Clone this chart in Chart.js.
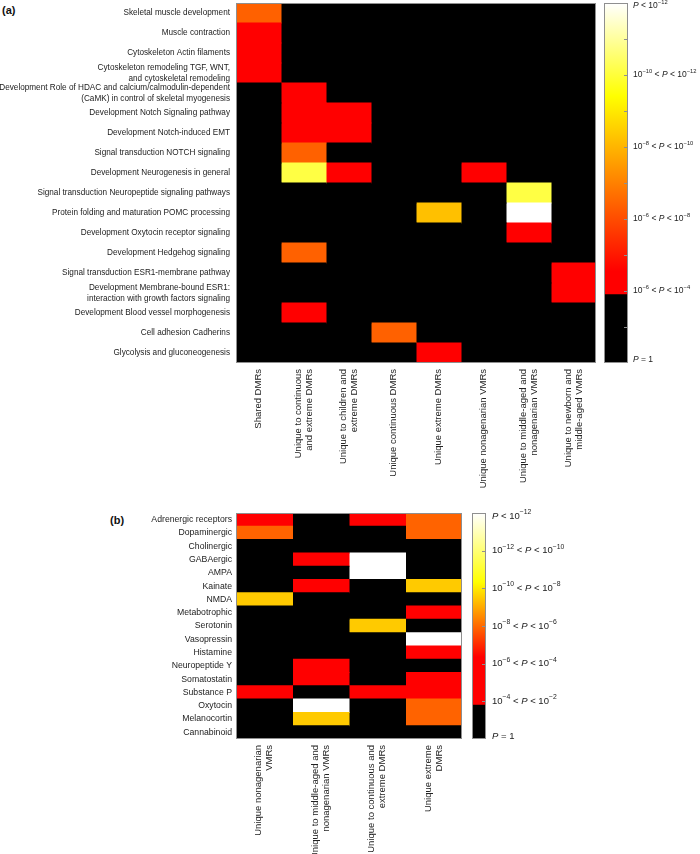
<!DOCTYPE html>
<html>
<head>
<meta charset="utf-8">
<title>Enrichment heatmaps</title>
<script src="https://cdn.jsdelivr.net/npm/chart.js@4.4.1/dist/chart.umd.min.js"></script>
<style>
  body { margin: 0; background: #fff; }
  #wrap { position: relative; width: 700px; height: 854px; overflow: hidden; font-family: 'Liberation Sans', Arial, sans-serif; }
  canvas { position: absolute; }
  .panel { position: absolute; font-weight: bold; font-size: 11px; color: #111; }
</style>
</head>
<body>
<div id="wrap">
  <div class="panel" style="left:2px;top:4px">(a)</div>
  <canvas id="heatA" width="600" height="500" style="left:0;top:0"></canvas>
  <canvas id="barA" width="100" height="386" style="left:600px;top:-6px"></canvas>
  <div class="panel" style="left:110px;top:514px">(b)</div>
  <canvas id="heatB" width="470" height="354" style="left:0;top:500px"></canvas>
  <canvas id="barB" width="234" height="262" style="left:466px;top:498px"></canvas>
</div>

<script>
// ---- panel (a): pathways ----
const pathwaysA = [
  'Skeletal muscle development',
  'Muscle contraction',
  'Cytoskeleton Actin filaments',
  ['Cytoskeleton remodeling TGF, WNT,', 'and cytoskeletal remodeling'],
  ['Development Role of HDAC and calcium/calmodulin-dependent', '(CaMK) in control of skeletal myogenesis'],
  'Development Notch Signaling pathway',
  'Development Notch-induced EMT',
  'Signal transduction NOTCH signaling',
  'Development Neurogenesis in general',
  'Signal transduction Neuropeptide signaling pathways',
  'Protein folding and maturation POMC processing',
  'Development Oxytocin receptor signaling',
  'Development Hedgehog signaling',
  'Signal transduction ESR1-membrane pathway',
  ['Development Membrane-bound ESR1:', 'interaction with growth factors signaling'],
  'Development Blood vessel morphogenesis',
  'Cell adhesion Cadherins',
  'Glycolysis and gluconeogenesis'
];
const groupsA = [
  ['Shared DMRs'],
  ['Unique to continuous', 'and extreme DMRs'],
  ['Unique to children and', 'extreme DMRs'],
  ['Unique continuous DMRs'],
  ['Unique extreme DMRs'],
  ['Unique nonagenarian VMRs'],
  ['Unique to middle-aged and', 'nonagenarian VMRs'],
  ['Unique to newborn and', 'middle-aged VMRs']
];
// -log10(P) per group, one entry per pathway (0 = not enriched, P = 1)
const sharedDMRs        = [7.4, 5, 5, 5, 0, 0, 0, 0, 0, 0, 0, 0, 0, 0, 0, 0, 0, 0];
const contExtremeDMRs   = [0, 0, 0, 0, 5, 5, 5, 7.4, 11.1, 0, 0, 0, 7.4, 0, 0, 5, 0, 0];
const childExtremeDMRs  = [0, 0, 0, 0, 0, 5, 5, 0, 5, 0, 0, 0, 0, 0, 0, 0, 0, 0];
const continuousDMRs    = [0, 0, 0, 0, 0, 0, 0, 0, 0, 0, 0, 0, 0, 0, 0, 0, 7.4, 0];
const extremeDMRs       = [0, 0, 0, 0, 0, 0, 0, 0, 0, 0, 9.2, 0, 0, 0, 0, 0, 0, 5];
const nonagenVMRs       = [0, 0, 0, 0, 0, 0, 0, 0, 5, 0, 0, 0, 0, 0, 0, 0, 0, 0];
const midNonagenVMRs    = [0, 0, 0, 0, 0, 0, 0, 0, 0, 11.1, 13, 5, 0, 0, 0, 0, 0, 0];
const newbornMidVMRs    = [0, 0, 0, 0, 0, 0, 0, 0, 0, 0, 0, 0, 0, 5, 5, 0, 0, 0];
const valuesA = [sharedDMRs, contExtremeDMRs, childExtremeDMRs, continuousDMRs,
                 extremeDMRs, nonagenVMRs, midNonagenVMRs, newbornMidVMRs];
const barTicksA  = [0, 2, 4, 6, 8, 10];
const barLabelsA = ['P = 1', '10^{-6} < P < 10^{-4}', '10^{-6} < P < 10^{-8}', '10^{-8} < P < 10^{-10}',
                    '10^{-10} < P < 10^{-12}', 'P < 10^{-12}'];

// ---- panel (b): receptor systems ----
const receptorsB = ['Adrenergic receptors', 'Dopaminergic', 'Cholinergic', 'GABAergic', 'AMPA', 'Kainate',
  'NMDA', 'Metabotrophic', 'Serotonin', 'Vasopressin', 'Histamine', 'Neuropeptide Y', 'Somatostatin',
  'Substance P', 'Oxytocin', 'Melanocortin', 'Cannabinoid'];
const groupsB = [
  ['Unique nonagenarian', 'VMRs'],
  ['Unique to middle-aged and', 'nonagenarian VMRs'],
  ['Unique to continuous and', 'extreme DMRs'],
  ['Unique extreme', 'DMRs']
];
const nonagenB    = [5, 6.9, 0, 0, 0, 0, 8.5, 0, 0, 0, 0, 0, 0, 5, 0, 0, 0];
const midNonagenB = [0, 0, 0, 5, 0, 5, 0, 0, 0, 0, 0, 5, 5, 0, 13, 8.5, 0];
const contExtB    = [5, 0, 0, 13, 13, 0, 0, 0, 8.5, 0, 0, 0, 0, 5, 0, 0, 0];
const extremeB    = [6.9, 6.9, 0, 0, 0, 8.5, 0, 5, 0, 13, 5, 0, 5, 5, 6.9, 6.9, 0];
const valuesB = [nonagenB, midNonagenB, contExtB, extremeB];
const barTicksB  = [0, 1, 2, 3, 4, 5, 6];
const barLabelsB = ['P = 1', '10^{-4} < P < 10^{-2}', '10^{-6} < P < 10^{-4}', '10^{-8} < P < 10^{-6}',
                    '10^{-10} < P < 10^{-8}', '10^{-12} < P < 10^{-10}', 'P < 10^{-12}'];

// colour scales: black below the threshold, then red -> yellow -> white
const scaleA = { toUnit: L => L - 3, blackTop: 1.9, max: 10,
  stops: [[0, [255, 0, 0]], [0.08, [255, 0, 0]], [0.68, [255, 255, 0]], [1, [255, 255, 255]]] };
const scaleB = { toUnit: L => (L - 1) / 2, blackTop: 0.9, max: 6,
  stops: [[0, [255, 0, 0]], [0.25, [255, 0, 0]], [0.64, [255, 255, 0]], [1, [255, 255, 255]]] };

function cellColor(sc, L) {
  const u = sc.toUnit(L);
  if (L <= 0 || u < sc.blackTop) return '#000';
  let t = Math.min(1, (u - sc.blackTop) / (sc.max - sc.blackTop));
  for (let i = 1; i < sc.stops.length; i++) {
    const [t0, c0] = sc.stops[i - 1], [t1, c1] = sc.stops[i];
    if (t <= t1) {
      const f = (t - t0) / (t1 - t0);
      return 'rgb(' + c0.map((c, k) => Math.round(c + (c1[k] - c) * f)).join(',') + ')';
    }
  }
  return '#fff';
}

const SANS = "'Liberation Sans', Arial, sans-serif";

// text with ^{...} superscripts and an italic P
function drawRich(ctx, str, x, y, size, supRatio) {
  const re = /\^\{([^}]*)\}|P|[^P^]+/g;
  let m;
  while ((m = re.exec(str))) {
    let txt = m[0], font = size + 'px ' + SANS, dy = 0;
    if (m[1] !== undefined) {
      txt = m[1].replace('-', '\u2212');
      font = (size * supRatio) + 'px ' + SANS;
      dy = -size * 0.4;
    } else if (txt === 'P') {
      font = 'italic ' + size + 'px ' + SANS;
    }
    ctx.font = font;
    ctx.fillText(txt, x, y + dy);
    x += ctx.measureText(txt).width;
  }
}

// black under the cells, so that no seams show between black cells
const plotBack = {
  id: 'plotBack',
  beforeDatasetsDraw(chart, args, opts) {
    if (!opts.color) return;
    const {ctx, chartArea: a} = chart;
    ctx.save();
    ctx.fillStyle = opts.color;
    ctx.fillRect(a.left, a.top, a.right - a.left, a.bottom - a.top);
    ctx.restore();
  }
};

// grey box round the plot area, inner ticks and rich labels on colour bars
const frame = {
  id: 'frame',
  afterDraw(chart, args, opts) {
    const {ctx, chartArea: a} = chart;
    ctx.save();
    ctx.strokeStyle = '#8f8f8f';
    ctx.lineWidth = 1;
    ctx.strokeRect(Math.round(a.left) + 0.5, Math.round(a.top) + 0.5,
                   Math.round(a.right - a.left) - 1, Math.round(a.bottom - a.top) - 1);
    if (opts.innerTicks) {
      const y = chart.scales.y;
      y.ticks.forEach(tk => {
        const py = Math.round(y.getPixelForValue(tk.value)) + 0.5;
        if (py < a.top + 2 || py > a.bottom - 2) return;
        ctx.beginPath();
        ctx.moveTo(a.right - 4, py);
        ctx.lineTo(a.right, py);
        ctx.stroke();
      });
    }
    if (opts.labels) {
      const y = chart.scales.y;
      ctx.fillStyle = '#222';
      ctx.textAlign = 'left';
      ctx.textBaseline = 'middle';
      opts.values.forEach((v, i) => {
        const py = Math.min(a.bottom - 3, Math.max(a.top + 3, y.getPixelForValue(v)));
        drawRich(ctx, opts.labels[i], a.right + opts.gap, py, opts.size, opts.supRatio);
      });
    }
    ctx.restore();
  }
};

// rotated group names under each heatmap column
const columnLabels = {
  id: 'columnLabels',
  afterDraw(chart, args, opts) {
    if (!opts.labels) return;
    const {ctx, chartArea: a} = chart;
    const x = chart.scales.x;
    ctx.save();
    ctx.font = opts.size + 'px ' + SANS;
    ctx.fillStyle = '#222';
    ctx.textAlign = 'right';
    ctx.textBaseline = 'middle';
    opts.labels.forEach((lines, j) => {
      const cx = x.getPixelForValue(j + 0.5);
      ctx.save();
      ctx.translate(cx, a.bottom + opts.gap);
      ctx.rotate(-Math.PI / 2);
      lines.forEach((ln, i) => ctx.fillText(ln, 0, (i - (lines.length - 1) / 2) * opts.lineHeight));
      ctx.restore();
    });
    ctx.restore();
  }
};

function heatmap(id, rows, groups, values, sc, padding, labelWidth, rowFont, rowPad, rowLine) {
  return new Chart(document.getElementById(id), {
    type: 'bar',
    data: {
      labels: rows,
      datasets: values.map((col, j) => ({
        label: groups[j].join(' '),
        data: rows.map(() => 1),
        backgroundColor: col.map(L => cellColor(sc, L)),
        borderWidth: 0,
        inflateAmount: 0.5,
        barPercentage: 1,
        categoryPercentage: 1
      }))
    },
    options: {
      indexAxis: 'y',
      responsive: false,
      animation: false,
      events: [],
      layout: { padding },
      plugins: {
        legend: { display: false },
        tooltip: { enabled: false },
        plotBack: { color: '#000' },
        columnLabels: { labels: groups, size: 9.5, gap: 6, lineHeight: 11 }
      },
      scales: {
        x: { type: 'linear', stacked: true, min: 0, max: groups.length, display: false },
        y: {
          stacked: true,
          grid: { display: false, drawTicks: false },
          border: { display: false },
          ticks: { autoSkip: false, padding: rowPad, color: '#222',
                   font: { family: SANS, size: rowFont, lineHeight: rowLine } },
          afterFit: ax => { ax.width = labelWidth; ax.paddingTop = 0; ax.paddingBottom = 0; }
        }
      }
    },
    plugins: [plotBack, frame, columnLabels]
  });
}

function colorbar(id, sc, tickVals, tickLabels, padding, axisWidth, fontSize, supRatio, gap) {
  return new Chart(document.getElementById(id), {
    type: 'bar',
    data: {
      labels: [''],
      datasets: [
        { label: 'P = 1', data: [[0, sc.blackTop]], backgroundColor: '#000' },
        { label: 'enriched', data: [[sc.blackTop, sc.max]],
          backgroundColor: ctx => {
            const ch = ctx.chart;
            if (!ch.chartArea) return '#f00';
            const y = ch.scales.y;
            const g = ch.ctx.createLinearGradient(0, y.getPixelForValue(sc.blackTop), 0, y.getPixelForValue(sc.max));
            sc.stops.forEach(([t, c]) => g.addColorStop(t, 'rgb(' + c.join(',') + ')'));
            return g;
          } }
      ].map(d => Object.assign(d, { borderWidth: 0, barPercentage: 1, categoryPercentage: 1, grouped: false }))
    },
    options: {
      responsive: false,
      animation: false,
      events: [],
      layout: { padding },
      plugins: {
        legend: { display: false },
        tooltip: { enabled: false },
        frame: { innerTicks: true, values: tickVals, labels: tickLabels, size: fontSize, supRatio, gap }
      },
      scales: {
        x: { display: false },
        y: {
          position: 'right',
          min: 0,
          max: sc.max,
          grid: { display: false, drawTicks: false },
          border: { display: false },
          ticks: { stepSize: 1, autoSkip: false, display: false },
          afterFit: ax => { ax.width = axisWidth; }
        }
      }
    },
    plugins: [frame]
  });
}

heatmap('heatA', pathwaysA, groupsA, valuesA, scaleA, { left: 0, top: 3, right: 4, bottom: 137 }, 236, 8.2, 6, 1.3);
colorbar('barA', scaleA, barTicksA, barLabelsA, { left: 4, top: 9, right: 0, bottom: 17 }, 72, 8.5, 0.68, 5);
heatmap('heatB', receptorsB, groupsB, valuesB, scaleB, { left: 0, top: 13, right: 8, bottom: 115 }, 236, 8.7, 4, 1.2);
colorbar('barB', scaleB, barTicksB, barLabelsB, { left: 6, top: 15, right: 0, bottom: 21 }, 214, 9.5, 0.72, 6);
</script>
</body>
</html>
